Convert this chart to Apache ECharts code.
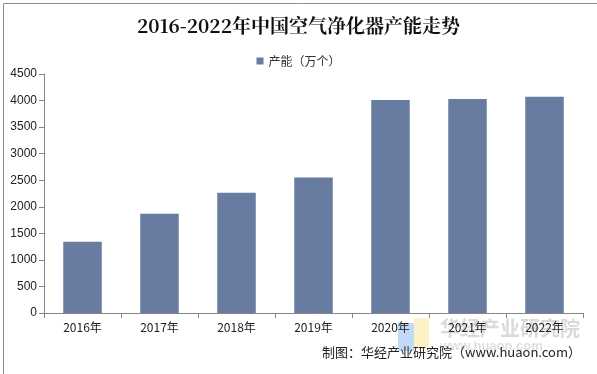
<!DOCTYPE html>
<html><head><meta charset="utf-8">
<script src="https://cdn.jsdelivr.net/npm/echarts@6/dist/echarts.min.js"></script>
<style>html,body{margin:0;padding:0;background:#fff}#c{width:597px;height:374px}</style>
</head><body><div id="c"></div>
<script>
const categories = ['2016年','2017年','2018年','2019年','2020年','2021年','2022年'];
const capacity = [1340, 1870, 2265, 2550, 4010, 4030, 4070];
const seriesName = '产能（万个）';
const titleText = '2016-2022年中国空气净化器产能走势';
const sourceText = '制图：华经产业研究院（www.huaon.com）';
const watermarkText = '华经产业研究院';

const chart = echarts.init(document.getElementById('c'));
chart.setOption({
  animation: false,
  backgroundColor: '#fff',
  title: {
    text: titleText, left: 'center', top: 11,
    textStyle: {fontFamily: 'Noto Serif CJK SC, Noto Sans CJK SC, serif', fontSize: 19, fontWeight: 'bold', color: '#111'}
  },
  legend: {
    top: 50, left: 'center', itemWidth: 7, itemHeight: 7, itemGap: 4,
    icon: 'rect',
    textStyle: {fontFamily: 'Noto Sans CJK SC', fontSize: 12, color: '#333'},
    data: [seriesName]
  },
  grid: {left: 44, right: 14, top: 74, bottom: 61},
  xAxis: {
    type: 'category', data: categories,
    axisLine: {lineStyle: {color: '#868686'}},
    axisTick: {show: true, alignWithLabel: false, lineStyle: {color: '#868686'}},
    axisLabel: {fontFamily: 'Noto Sans CJK SC', fontSize: 12, color: '#222', margin: 8}
  },
  yAxis: {
    type: 'value', min: 0, max: 4500, interval: 500,
    splitLine: {show: false},
    axisLine: {show: true, lineStyle: {color: '#868686'}},
    axisTick: {show: true, lineStyle: {color: '#868686'}},
    axisLabel: {fontFamily: 'Liberation Sans, Arial', fontSize: 12, color: '#222', margin: 7,
      formatter: v => String(v)}
  },
  series: [{
    name: seriesName, type: 'bar', data: capacity, barWidth: '50%',
    itemStyle: {color: '#687ba0'}
  }],
  graphic: [
    {type: 'rect', left: 1, top: 1, shape: {width: 594, height: 371},
     style: {fill: 'none', stroke: '#8c8c8c', lineWidth: 1}, silent: true},
    {type: 'rect', left: 398, top: 323, shape: {width: 16, height: 28},
     style: {fill: 'rgba(120,170,240,0.45)'}, silent: true},
    {type: 'rect', left: 414, top: 318, shape: {width: 15, height: 31},
     style: {fill: 'rgba(250,225,130,0.45)'}, silent: true},
    {type: 'text', left: 440, top: 318,
     style: {text: watermarkText, font: 'bold 20px "Noto Sans CJK SC"', fill: 'rgba(150,150,150,0.35)'}, silent: true},
    {type: 'text', left: 440, top: 340,
     style: {text: 'www.huaon.com', font: 'bold 13px "Liberation Sans"', fill: 'rgba(150,150,150,0.3)'}, silent: true},
    {type: 'text', right: 16, top: 346,
     style: {text: sourceText, font: '13px "Noto Sans CJK SC"', fill: '#222'}, silent: true}
  ]
});
</script></body></html>
